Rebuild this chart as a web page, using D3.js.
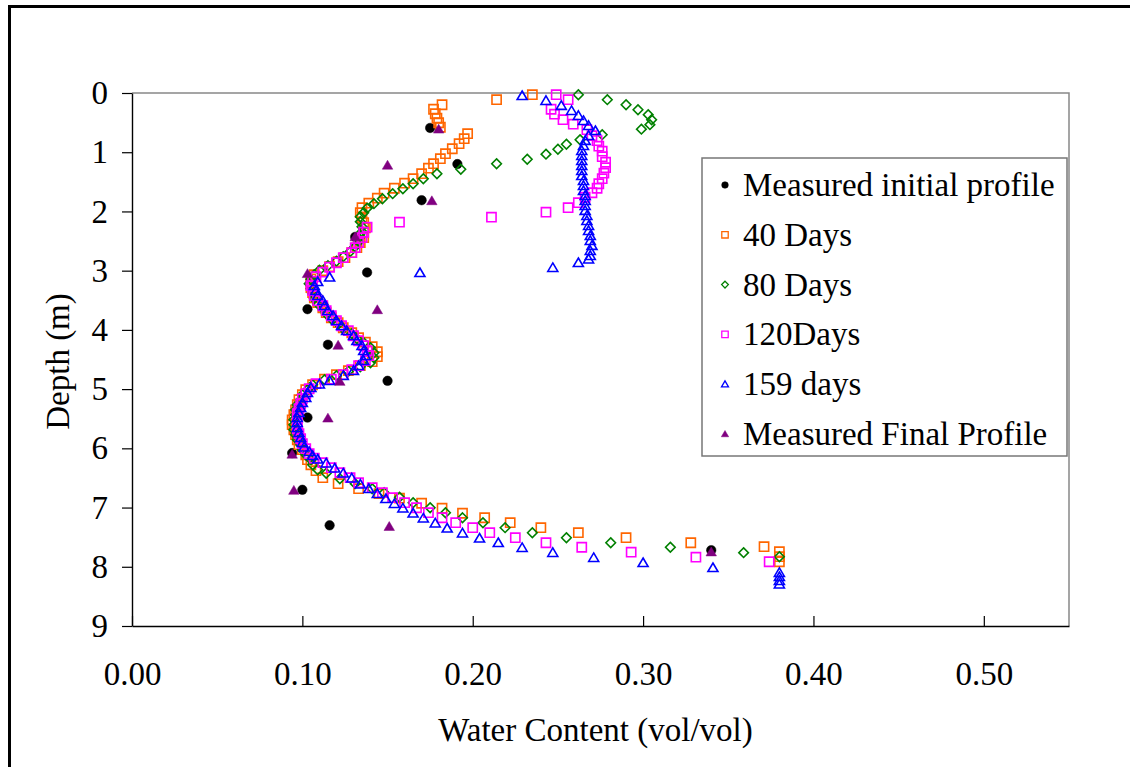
<!DOCTYPE html>
<html>
<head>
<meta charset="utf-8">
<script src="https://cdn.jsdelivr.net/npm/d3@7"></script>
<style>
  body { margin: 0; background: #fff; }
  svg { display: block; }
  text { font-family: "Liberation Serif", "Times New Roman", serif; fill: #000; }
</style>
</head>
<body>
<svg id="chart" width="1130" height="767"></svg>
<script>
// Soil water content profiles: [water content (vol/vol), depth (m)]
const initialProfile = [
  [0.175,0.59],[0.191,1.20],[0.170,1.81],[0.131,2.43],[0.138,3.03],[0.103,3.65],[0.115,4.25],
  [0.150,4.86],[0.103,5.48],[0.094,6.08],[0.100,6.70],[0.116,7.30],[0.340,7.72]
];

const days40 = [
  [0.235,0.029],[0.214,0.113],[0.182,0.198],[0.177,0.274],[0.178,0.350],[0.179,0.426],[0.180,0.502],[0.181,0.578],
  [0.197,0.687],[0.195,0.772],[0.192,0.856],[0.188,0.941],[0.184,1.025],[0.181,1.109],[0.177,1.194],[0.174,1.270],
  [0.170,1.363],[0.165,1.447],[0.160,1.523],[0.154,1.608],[0.148,1.692],[0.144,1.776],[0.139,1.861],[0.135,1.937],
  [0.134,2.021],[0.135,2.106],[0.136,2.190],[0.137,2.275],[0.136,2.359],[0.136,2.443],[0.134,2.528],[0.132,2.612],
  [0.129,2.697],[0.125,2.781],[0.121,2.849],[0.116,2.933],[0.112,3.001],[0.107,3.069],[0.105,3.137],[0.105,3.212],
  [0.105,3.288],[0.106,3.372],[0.107,3.457],[0.109,3.541],[0.112,3.626],[0.114,3.710],[0.117,3.795],[0.121,3.879],
  [0.124,3.964],[0.129,4.048],[0.133,4.133],[0.137,4.208],[0.141,4.284],[0.144,4.369],[0.144,4.453],[0.141,4.537],
  [0.134,4.605],[0.127,4.689],[0.120,4.757],[0.113,4.833],[0.106,4.926],[0.102,5.011],[0.100,5.095],[0.098,5.180],
  [0.097,5.264],[0.096,5.349],[0.095,5.433],[0.094,5.518],[0.094,5.601],[0.095,5.686],[0.096,5.770],[0.097,5.855],
  [0.098,5.939],[0.100,6.023],[0.102,6.108],[0.103,6.192],[0.105,6.277],[0.108,6.378],[0.112,6.496],[0.121,6.597],
  [0.133,6.682],[0.145,6.766],[0.157,6.842],[0.170,6.927],[0.182,7.011],[0.194,7.096],[0.207,7.172],[0.222,7.256],
  [0.240,7.340],[0.262,7.425],[0.290,7.509],[0.328,7.594],[0.371,7.661],[0.380,7.746],[0.380,7.830],[0.380,7.915]
];

const days80 = [
  [0.262,0.029],[0.279,0.113],[0.290,0.198],[0.297,0.282],[0.303,0.366],[0.305,0.451],[0.304,0.535],[0.299,0.611],
  [0.276,0.704],[0.263,0.789],[0.255,0.865],[0.250,0.949],[0.243,1.033],[0.232,1.118],[0.214,1.194],[0.193,1.287],
  [0.179,1.363],[0.171,1.447],[0.165,1.532],[0.159,1.616],[0.153,1.700],[0.147,1.785],[0.142,1.869],[0.138,1.945],
  [0.136,2.021],[0.134,2.089],[0.134,2.173],[0.135,2.258],[0.135,2.342],[0.134,2.426],[0.133,2.511],[0.131,2.595],
  [0.128,2.680],[0.124,2.764],[0.120,2.840],[0.115,2.916],[0.110,2.992],[0.107,3.069],[0.105,3.145],[0.104,3.220],
  [0.105,3.305],[0.106,3.389],[0.107,3.474],[0.109,3.558],[0.112,3.643],[0.114,3.727],[0.117,3.812],[0.121,3.896],
  [0.124,3.981],[0.129,4.065],[0.132,4.150],[0.136,4.217],[0.140,4.301],[0.142,4.386],[0.142,4.470],[0.140,4.554],
  [0.134,4.622],[0.127,4.698],[0.120,4.774],[0.113,4.841],[0.106,4.926],[0.103,5.011],[0.100,5.095],[0.099,5.180],
  [0.097,5.264],[0.096,5.349],[0.096,5.433],[0.095,5.518],[0.095,5.601],[0.095,5.686],[0.096,5.770],[0.097,5.855],
  [0.099,5.939],[0.100,6.023],[0.102,6.108],[0.105,6.192],[0.106,6.277],[0.109,6.361],[0.114,6.420],[0.122,6.513],
  [0.131,6.597],[0.141,6.682],[0.148,6.749],[0.157,6.825],[0.165,6.918],[0.175,7.003],[0.184,7.087],[0.194,7.172],
  [0.206,7.256],[0.219,7.340],[0.235,7.425],[0.255,7.509],[0.281,7.594],[0.316,7.670],[0.359,7.762],[0.380,7.830]
];

const days120 = [
  [0.249,0.029],[0.256,0.113],[0.246,0.274],[0.248,0.358],[0.253,0.451],[0.259,0.527],[0.267,0.620],[0.270,0.721],
  [0.273,0.805],[0.274,0.898],[0.276,0.983],[0.276,1.076],[0.278,1.169],[0.278,1.261],[0.277,1.354],[0.276,1.447],
  [0.274,1.532],[0.273,1.608],[0.270,1.684],[0.266,1.760],[0.262,1.852],[0.256,1.937],[0.243,2.013],[0.211,2.097],
  [0.157,2.182],[0.138,2.266],[0.136,2.351],[0.135,2.443],[0.133,2.528],[0.131,2.612],[0.129,2.697],[0.124,2.781],
  [0.120,2.866],[0.116,2.942],[0.112,3.026],[0.108,3.103],[0.106,3.179],[0.105,3.254],[0.106,3.338],[0.107,3.423],
  [0.109,3.507],[0.112,3.592],[0.114,3.676],[0.117,3.761],[0.120,3.845],[0.123,3.930],[0.127,4.014],[0.130,4.099],
  [0.133,4.183],[0.136,4.267],[0.138,4.352],[0.139,4.436],[0.137,4.520],[0.133,4.605],[0.129,4.672],[0.124,4.757],
  [0.117,4.833],[0.108,4.909],[0.104,4.994],[0.102,5.078],[0.100,5.163],[0.099,5.247],[0.098,5.332],[0.097,5.416],
  [0.097,5.501],[0.097,5.584],[0.097,5.669],[0.098,5.753],[0.099,5.838],[0.100,5.922],[0.102,6.006],[0.104,6.091],
  [0.107,6.167],[0.112,6.243],[0.117,6.327],[0.122,6.412],[0.128,6.496],[0.133,6.580],[0.141,6.665],[0.147,6.749],
  [0.153,6.834],[0.160,6.918],[0.167,7.003],[0.174,7.087],[0.182,7.172],[0.190,7.256],[0.200,7.340],[0.210,7.425],
  [0.225,7.509],[0.243,7.594],[0.264,7.670],[0.293,7.754],[0.331,7.838],[0.374,7.915]
];

const days159 = [
  [0.229,0.046],[0.243,0.130],[0.252,0.214],[0.258,0.299],[0.262,0.383],[0.265,0.468],[0.268,0.552],[0.272,0.637],
  [0.268,0.721],[0.266,0.805],[0.265,0.890],[0.264,0.974],[0.264,1.059],[0.264,1.143],[0.264,1.228],[0.264,1.312],
  [0.264,1.397],[0.265,1.481],[0.265,1.565],[0.265,1.650],[0.266,1.734],[0.266,1.819],[0.266,1.903],[0.266,1.987],
  [0.267,2.072],[0.267,2.156],[0.268,2.241],[0.268,2.325],[0.269,2.410],[0.269,2.494],[0.270,2.578],[0.269,2.663],
  [0.269,2.747],[0.268,2.806],[0.262,2.866],[0.247,2.950],[0.169,3.035],[0.116,3.111],[0.109,3.187],[0.107,3.254],
  [0.108,3.338],[0.109,3.423],[0.112,3.507],[0.113,3.592],[0.115,3.676],[0.118,3.761],[0.120,3.845],[0.123,3.930],
  [0.126,4.014],[0.130,4.099],[0.132,4.183],[0.135,4.267],[0.136,4.352],[0.137,4.436],[0.136,4.520],[0.133,4.605],
  [0.130,4.689],[0.124,4.774],[0.116,4.858],[0.110,4.917],[0.105,4.977],[0.103,5.061],[0.102,5.146],[0.100,5.230],
  [0.099,5.315],[0.098,5.399],[0.097,5.484],[0.097,5.567],[0.097,5.652],[0.098,5.736],[0.099,5.821],[0.100,5.905],
  [0.101,5.981],[0.104,6.057],[0.106,6.125],[0.109,6.184],[0.114,6.251],[0.119,6.336],[0.124,6.420],[0.129,6.504],
  [0.134,6.606],[0.139,6.682],[0.144,6.766],[0.149,6.851],[0.154,6.935],[0.159,7.011],[0.165,7.096],[0.171,7.180],
  [0.178,7.264],[0.185,7.349],[0.194,7.433],[0.204,7.518],[0.215,7.594],[0.229,7.678],[0.247,7.762],[0.271,7.847],
  [0.300,7.932],[0.341,8.016],[0.380,8.100],[0.380,8.168],[0.380,8.235],[0.380,8.294]
];

const finalProfile = [
  [0.180,0.61],[0.150,1.22],[0.176,1.82],[0.131,2.43],[0.103,3.05],[0.144,3.66],[0.121,4.26],
  [0.122,4.87],[0.115,5.49],[0.094,6.10],[0.095,6.71],[0.151,7.32],[0.340,7.75]
];

const seriesNames = ["Measured initial profile", "40 Days", "80 Days", "120Days", "159 days", "Measured Final Profile"];
const xTickValues = [0, 0.1, 0.2, 0.3, 0.4, 0.5];
const yTickValues = [0, 1, 2, 3, 4, 5, 6, 7, 8, 9];
const xTitle = "Water Content (vol/vol)";
const yTitle = "Depth (m)";

// Marker shapes (size = nominal width in px)
const shapes = {
  circle:   s => { const r = s / 2; return `M${-r},0A${r},${r} 0 1,0 ${r},0A${r},${r} 0 1,0 ${-r},0Z`; },
  square:   s => { const h = s / 2; return `M${-h},${-h}H${h}V${h}H${-h}Z`; },
  diamond:  s => { const h = s / 2; return `M0,${-h}L${h},0L0,${h}L${-h},0Z`; },
  triangle: s => { const h = s / 2; return `M0,${-h * 0.95}L${h},${h * 0.75}L${-h},${h * 0.75}Z`; }
};

const series = [
  { name: seriesNames[0], data: initialProfile, shape: "circle",   size: 9.5, color: "#000000", filled: true },
  { name: seriesNames[1], data: days40,         shape: "square",   size: 9.2, color: "#FF6600", filled: false },
  { name: seriesNames[2], data: days80,         shape: "diamond",  size: 9.6, color: "#008000", filled: false },
  { name: seriesNames[3], data: days120,        shape: "square",   size: 9.2, color: "#FF00FF", filled: false },
  { name: seriesNames[4], data: days159,        shape: "triangle", size: 10,  color: "#0000FF", filled: false },
  { name: seriesNames[5], data: finalProfile,   shape: "triangle", size: 10.5, color: "#800080", filled: true }
];

const svg = d3.select("#chart");

// Outer chart border (only the top and left edges fall inside the frame)
svg.append("rect")
  .attr("x", 9.5).attr("y", 6.5).attr("width", 1200).attr("height", 900)
  .attr("fill", "none").attr("stroke", "#000").attr("stroke-width", 3);

const plot = { left: 132, right: 1069, top: 93, bottom: 626 };
const x = d3.scaleLinear().domain([0, 0.55]).range([plot.left, plot.right]);
const y = d3.scaleLinear().domain([0, 9]).range([plot.top, plot.bottom]);

// Gray top and right frame edges
svg.append("path")
  .attr("d", `M${plot.left},${plot.top}H${plot.right}V${plot.bottom}`)
  .attr("fill", "none").attr("stroke", "#888").attr("stroke-width", 1.5);

// Y axis (depth increases downward)
const yAxis = svg.append("g")
  .attr("transform", `translate(${plot.left},0)`)
  .call(d3.axisLeft(y).tickValues(yTickValues).tickFormat(d3.format("d"))
    .tickSize(10).tickSizeOuter(0).tickPadding(14));
yAxis.selectAll("text").style("font-size", "33px");

// X axis, ticks pointing into the plot
const xAxis = svg.append("g")
  .attr("transform", `translate(0,${plot.bottom})`)
  .call(d3.axisBottom(x).tickValues(xTickValues).tickFormat(d3.format(".2f"))
    .tickSize(-10).tickSizeOuter(0).tickPadding(36));
xAxis.selectAll("text").style("font-size", "33px");

[yAxis, xAxis].forEach(a => {
  a.attr("font-family", null).attr("font-size", null);
  a.select(".domain").attr("stroke", "#000").attr("stroke-width", 1.4);
  a.selectAll(".tick line").attr("stroke", "#000").attr("stroke-width", 1.2);
});

// Axis titles
svg.append("text")
  .attr("x", (plot.left + plot.right) / 2 - 5).attr("y", 741)
  .attr("text-anchor", "middle").style("font-size", "33px")
  .text(xTitle);
svg.append("text")
  .attr("transform", `translate(69,${(plot.top + plot.bottom) / 2 + 2}) rotate(-90)`)
  .attr("text-anchor", "middle").style("font-size", "33px")
  .text(yTitle);

// Data markers
const marks = svg.append("g");
series.forEach(s => {
  marks.append("g").selectAll("path")
    .data(s.data)
    .join("path")
    .attr("transform", d => `translate(${x(d[0])},${y(d[1])})`)
    .attr("d", shapes[s.shape](s.size))
    .attr("fill", s.filled ? s.color : "none")
    .attr("stroke", s.color)
    .attr("stroke-width", s.filled ? 0.5 : 1.6);
});

// Legend
const legend = svg.append("g");
legend.append("rect")
  .attr("x", 702).attr("y", 158).attr("width", 365).attr("height", 298)
  .attr("fill", "#fff").attr("stroke", "#777").attr("stroke-width", 1.5);
series.forEach((s, i) => {
  const cy = 185 + i * 49.8;
  legend.append("path")
    .attr("transform", `translate(725,${cy})`)
    .attr("d", shapes[s.shape](s.size * 0.7))
    .attr("fill", s.filled ? s.color : "none")
    .attr("stroke", s.color)
    .attr("stroke-width", s.filled ? 0.5 : 1.3);
  legend.append("text")
    .attr("x", 743).attr("y", cy + 11)
    .style("font-size", "33px")
    .text(s.name);
});
</script>
</body>
</html>
